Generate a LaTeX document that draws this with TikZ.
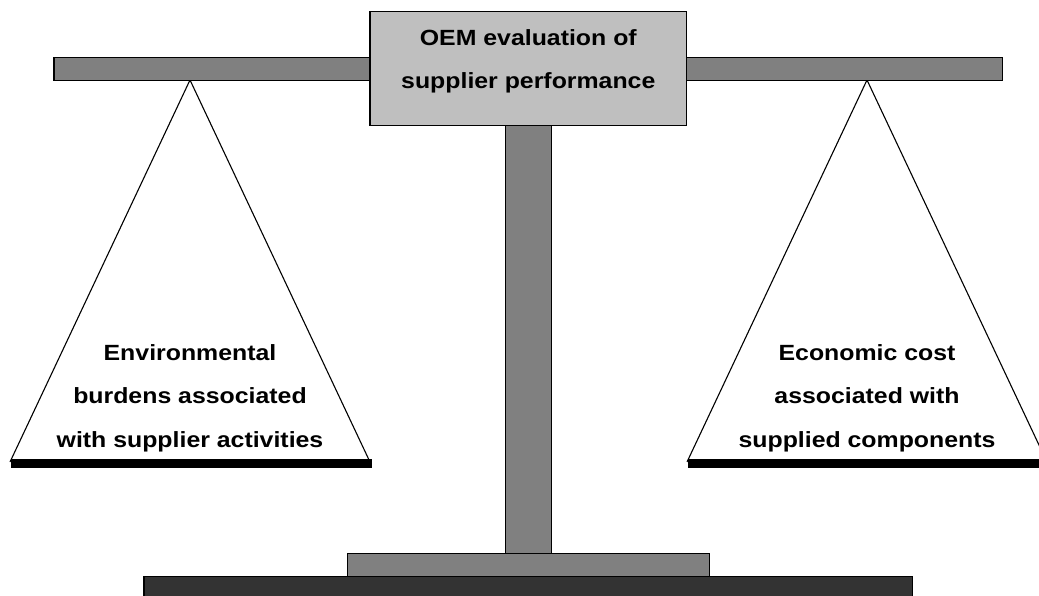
\documentclass[tikz,border=0pt]{standalone}
\usepackage{fontspec}
\newfontfamily\lab[FakeStretch=1.13]{Liberation Sans}
\begin{document}
\begin{tikzpicture}[x=1pt,y=-1pt,
  edge/.style={draw=black,line width=1.2pt},
  beam/.style={edge,fill=gray50},
  pan/.style={fill=black},
  lbl/.style={font=\lab\bfseries\fontsize{22}{43.5}\selectfont,anchor=base,inner sep=0pt,align=center},
]
\colorlet{gray50}{black!50}
\useasboundingbox (0,0) rectangle (1039,596);
\clip (0,0) rectangle (1039,596);
% triangles (pans' strings)
\coordinate (la) at (190,80);
\coordinate (ra) at (867,80);
\draw[line width=1.1pt] (10,462) -- (la) -- (370,462);
\draw[line width=1.1pt] (687,462) -- (ra) -- (1047,462);
% pans
\fill[pan] (11,459) rectangle (372,468);
\fill[pan] (688,459) rectangle (1045,468);
% beams
\draw[beam] (54,57.5) rectangle (370,80.3);
\draw[beam] (686.5,57.5) rectangle (1002.7,80.3);
% pole
\draw[beam] (505.7,125.7) rectangle (551.7,553.3);
% top box
\draw[edge,fill=black!25] (370,11.7) rectangle (686.7,125.7);
% plate and base
\draw[beam] (347.3,553.3) rectangle (709.7,576.5);
\draw[edge,fill=black!80] (144,576.5) rectangle (912.7,600);
% labels
\node[lbl] (oem) at (528.3,89) {OEM evaluation of\\supplier performance};
\node[lbl] (env) at (190,447) {Environmental\\burdens associated\\with supplier activities};
\node[lbl] (eco) at (867,447) {Economic cost\\associated with\\supplied components};
\end{tikzpicture}
\end{document}
